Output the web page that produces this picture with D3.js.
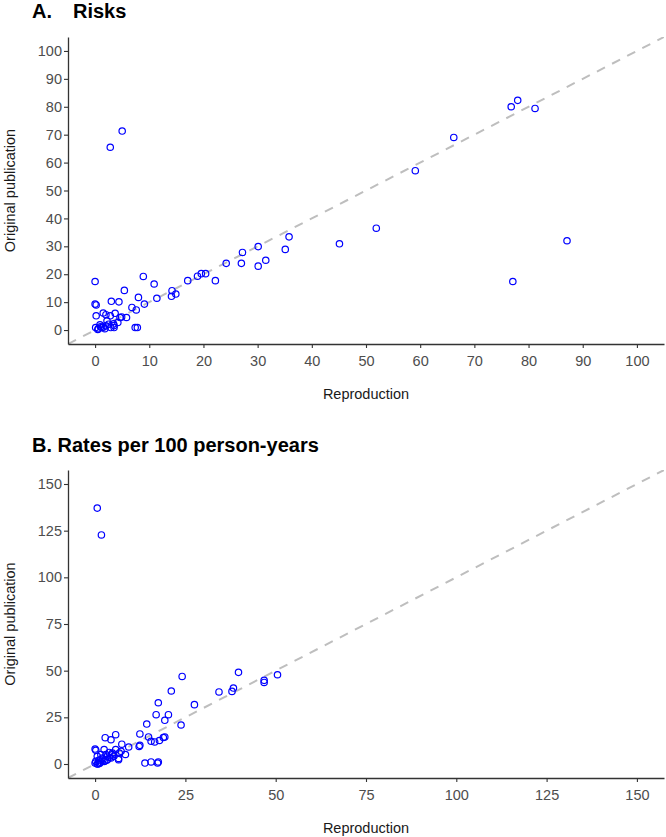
<!DOCTYPE html>
<html>
<head>
<meta charset="utf-8">
<script src="https://cdn.jsdelivr.net/npm/d3@7"></script>
<style>
  html, body { margin: 0; padding: 0; background: #fff; }
  svg { display: block; font-family: "Liberation Sans", Arial, sans-serif; }
</style>
</head>
<body>
<svg id="chart" width="666" height="837"></svg>
<script>
// ---- Panel A: Risks ----
const riskRepro = [2.8, 5.0, 0, 0, 0.2, 0.2, 0.1, 0.9, 1.5, 2.0, 3.0, 2.8, 3.7, 4.4, 5.4, 6.8, 7.6, 7.4, 7.8, 8.0, 8.9, 9.1, 10.9, 11.4, 14.1, 14.2, 14.9, 17.1, 18.9, 19.6, 20.4, 22.2, 24.2, 27.2, 27.0, 30.1, 30.1, 31.5, 35.1, 35.8, 45.1, 51.9, 77.1, 87.1, 59.1, 66.2, 76.8, 78.0, 81.2,
  2.2, 3.4, 3.5, 2.9, 4.2, 4.6, 4.9, 5.8, 1.2, 1.8, 0.6, 2.5, 3.5, 0.5, 1.0, 1.5, 2.0];
const riskOrig = [65.5, 71.3, 17.4, 9.3, 9.0, 5.1, 0.9, 1.9, 6.1, 5.5, 10.3, 5.1, 6.0, 10.1, 14.2, 8.1, 7.2, 0.9, 0.9, 11.7, 19.2, 9.3, 16.5, 11.4, 12.1, 14.1, 12.9, 17.7, 19.3, 20.2, 20.2, 17.7, 23.9, 27.8, 23.9, 29.9, 22.9, 25.0, 28.9, 33.4, 30.9, 36.5, 17.4, 32.0, 57.1, 69.0, 80.0, 82.3, 79.4,
  3.3, 2.2, 1.6, 0.9, 2.7, 4.5, 4.7, 4.5, 0.9, 0.5, 0.5, 2.1, 0.9, 0.2, 1.2, 1.0, 1.5];
const riskTicks = [0, 10, 20, 30, 40, 50, 60, 70, 80, 90, 100];

// ---- Panel B: Rates per 100 person-years ----
const rateRepro = [0.6, 1.75, 24.1, 39.7, 50.5, 46.8, 46.8, 38.3, 37.9, 34.3, 21.1, 17.5, 27.5, 16.9, 20.3, 19.3, 14.3, 23.8, 12.4, 5.7, 2.8, 4.4, 14.8, 15.5, 16.5, 17.8, 18.9, 19.3, 12.2, 12.4, 9.3, 7.4, 8.4, 6.5, 13.8, 15.5, 17.3, 17.5,
  0, 0.2, 2.5, 3.9, 4.8, 5.7, 1.6, 0.6, 2.0, 3.4, 4.4, 0.2, 1.1, 2.5, 0.6, 3.4, 5.2, 6.5, 4.8, 3.0, 6.7, 7.2, 0, 1.0, 1.5, 2.2, 3.0, 4.0, 1.2, 0.8];
const rateOrig = [137.1, 122.7, 46.9, 49.1, 47.8, 44.8, 43.7, 40.7, 38.9, 38.6, 39.1, 32.8, 31.8, 26.4, 26.4, 23.4, 21.4, 20.9, 16.1, 15.7, 14.1, 13.0, 14.5, 12.2, 11.8, 12.6, 14.2, 14.5, 9.4, 10.0, 9.1, 10.6, 5.1, 3.0, 0.5, 1.1, 0.5, 1.1,
  8.0, 7.3, 7.7, 6.2, 5.9, 7.7, 5.0, 4.1, 3.2, 4.1, 3.2, 1.4, 0.5, 1.4, 0, 2.3, 4.1, 2.3, 5.0, 5.0, 5.9, 6.8, 0.5, 2.0, 1.0, 2.6, 1.8, 3.5, 0.3, 0.0];
const rateTicks = [0, 25, 50, 75, 100, 125, 150];

const svg = d3.select("#chart");
const L = 68, R = 664;

function panel(cfg) {
  const x = d3.scaleLinear().domain(cfg.domain).range([L, R]);
  const y = d3.scaleLinear().domain(cfg.domain).range([cfg.bottom, cfg.top]);
  const g = svg.append("g");

  // title
  g.append("text").attr("x", 32).attr("y", cfg.titleY)
    .attr("font-size", 20).attr("font-weight", "bold").attr("fill", "#000")
    .text(cfg.titleA);
  if (cfg.titleB) {
    g.append("text").attr("x", 73).attr("y", cfg.titleY)
      .attr("font-size", 20).attr("font-weight", "bold").attr("fill", "#000")
      .text(cfg.titleB);
  }

  // clip
  const cid = "clip" + cfg.id;
  svg.append("clipPath").attr("id", cid).append("rect")
    .attr("x", L).attr("y", cfg.top).attr("width", R - L).attr("height", cfg.bottom - cfg.top);

  // y = x reference line
  g.append("line").attr("clip-path", `url(#${cid})`)
    .attr("x1", x(cfg.domain[0])).attr("y1", y(cfg.domain[0]))
    .attr("x2", x(cfg.domain[1])).attr("y2", y(cfg.domain[1]))
    .attr("stroke", "#bebebe").attr("stroke-width", 2).attr("stroke-dasharray", "9,8");

  // points
  g.append("g").selectAll("circle").data(cfg.xs.map((v, i) => [v, cfg.ys[i]]))
    .join("circle")
    .attr("cx", d => x(d[0])).attr("cy", d => y(d[1])).attr("r", 3.2)
    .attr("fill", "none").attr("stroke", "#0000ff").attr("stroke-width", 1.2);

  // axes
  const ax = g.append("g").attr("transform", `translate(0,${cfg.bottom})`)
    .call(d3.axisBottom(x).tickValues(cfg.ticks).tickSize(4).tickPadding(8).tickSizeOuter(0));
  const ay = g.append("g").attr("transform", `translate(${L},0)`)
    .call(d3.axisLeft(y).tickValues(cfg.ticks).tickSize(4).tickPadding(2).tickSizeOuter(0));
  [ax, ay].forEach(a => {
    a.select(".domain").attr("stroke", "#333").attr("stroke-width", 1.3);
    a.selectAll(".tick line").attr("stroke", "#333").attr("stroke-width", 1.1);
    a.selectAll(".tick text").attr("fill", "#4d4d4d").attr("font-size", 14.5)
      .attr("font-family", "'Liberation Sans', Arial, sans-serif");
  });

  // axis titles
  g.append("text").attr("x", (L + R) / 2).attr("y", cfg.bottom + 55)
    .attr("text-anchor", "middle").attr("font-size", 14.5).attr("fill", "#1a1a1a")
    .text("Reproduction");
  g.append("text")
    .attr("transform", `translate(15,${(cfg.top + cfg.bottom) / 2}) rotate(-90)`)
    .attr("text-anchor", "middle").attr("font-size", 14.5).attr("fill", "#1a1a1a")
    .text("Original publication");
}

panel({ id: "A", domain: [-5, 105], top: 37, bottom: 344, titleY: 18,
  titleA: "A.", titleB: "Risks", xs: riskRepro, ys: riskOrig, ticks: riskTicks });
panel({ id: "B", domain: [-7.5, 157.5], top: 470, bottom: 778, titleY: 452,
  titleA: "B. Rates per 100 person-years", titleB: null, xs: rateRepro, ys: rateOrig, ticks: rateTicks });
</script>
</body>
</html>
